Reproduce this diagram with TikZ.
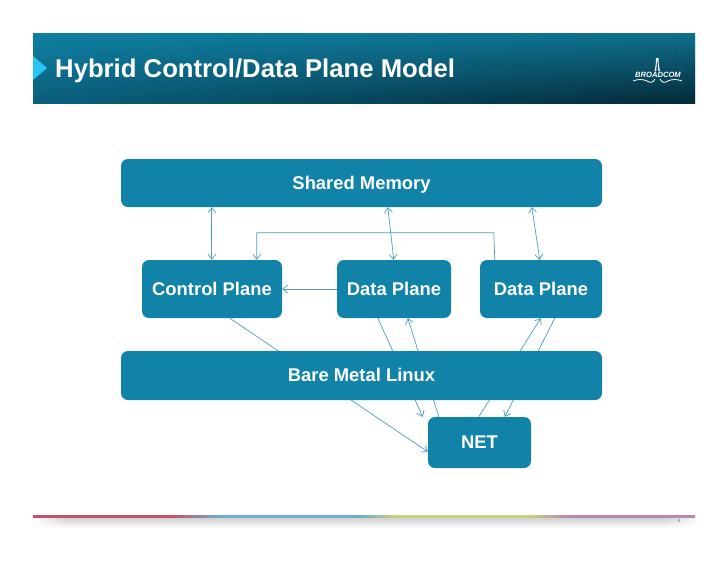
\documentclass[tikz,border=0pt]{standalone}
\usepackage{fontspec}
\setmainfont{Liberation Sans}
\usetikzlibrary{arrows.meta,fadings,backgrounds}
\definecolor{boxc}{HTML}{1183A9}
\definecolor{linkc}{HTML}{4F9DBA}
\definecolor{rainA}{HTML}{C9506A}
\definecolor{rainB}{HTML}{6FAEC6}
\definecolor{rainC}{HTML}{C8D082}
\definecolor{rainD}{HTML}{B48CAE}
\definecolor{hdrTL}{HTML}{0F80A2}
\definecolor{hdrBL}{HTML}{0A5F7C}
\definecolor{hdrTR}{HTML}{0E6F8C}
\definecolor{hdrBR}{HTML}{042B3A}
\definecolor{arrowc}{HTML}{27C4F5}
\pgfdeclarehorizontalshading{rainbowline}{100bp}{
 color(0bp)=(rainA);
 color(35.5bp)=(rainA);
 color(39bp)=(rainB);
 color(49.7bp)=(rainB);
 color(52.3bp)=(rainC);
 color(62.5bp)=(rainC);
 color(65.2bp)=(rainD);
 color(100bp)=(rainD)}
\tikzfading[name=shadowdown,top color=transparent!30,bottom color=transparent!100]
\tikzfading[name=shadowmid,left color=transparent!100,middle color=transparent!0,right color=transparent!100]
\tikzfading[name=fadeleft,left color=transparent!0,right color=transparent!100]
\tikzfading[name=faderight,left color=transparent!100,right color=transparent!0]
\tikzset{
 boxnode/.style={fill=boxc,rounded corners=7pt,inner sep=0pt,text=white,
   text height=12pt,text depth=0pt,
   font=\fontsize{18.4}{22}\selectfont\bfseries},
 link/.style={draw=linkc,line width=0.7pt},
 tip/.style={-{Straight Barb[length=5pt,width=8pt]}},
 twotip/.style={{Straight Barb[length=5pt,width=8pt]}-{Straight Barb[length=5pt,width=8pt]}},
}
\begin{document}
\begin{tikzpicture}[x=1pt,y=-1pt]
\useasboundingbox (0,0) rectangle (728,563);
% header shadow
\fill[black,opacity=.55,path fading=shadowmid] (120,103) rectangle (615,105.5);
\fill[black,opacity=.3,path fading=shadowmid] (120,105.5) rectangle (615,108);
\fill[black,opacity=.1,path fading=shadowmid] (120,108) rectangle (615,110);
% header band
\foreach \k in {0,...,34} {
  \pgfmathtruncatemacro{\pct}{100-100*\k/34}
  \shade[left color=hdrTL!\pct!hdrBL,right color=hdrTR!\pct!hdrBR] (33,33+2*\k) rectangle (695,{min(103,35.5+2*\k)});
}
\fill[white,opacity=.035] foreach \i in {0,...,85} { foreach \j in {0,...,11} { (300+4.5*\i,40+4.5*\j) circle (0.8) } };
\fill[arrowc] (33,56) -- (47,68) -- (33,80) -- cycle;
\node[anchor=base west,inner sep=0pt,text=white,font=\fontsize{25.7}{28}\selectfont\bfseries] (title) at (55,77) {Hybrid Control/Data Plane Model};
% logo
\node[text=white,inner sep=0pt,font=\fontsize{7.6}{8}\selectfont\bfseries\itshape] (logo) at (658,75) {BROADCOM};
\fill[white] (654.5,71) .. controls (656,66) and (656,60) .. (656,58) -- (658.5,58) .. controls (658.5,60) and (658.5,66) .. (660,71) -- (658.3,71) -- (657.6,61) -- (656.9,61) -- (656.2,71) -- cycle;
\draw[white,line width=0.8pt] (633,81) .. controls (638,79) and (643,79) .. (647,81) .. controls (650,83) and (653,83) .. (655,79);
\draw[white,line width=0.8pt] (660,79) .. controls (662,83) and (665,83) .. (668,81) .. controls (672,79) and (677,79) .. (682,81);
% footer
\fill[black!28,path fading=shadowdown] (33,517) rectangle (695,528);
\fill[white,path fading=fadeleft] (33,517) rectangle (65,529);
\fill[white,opacity=.8,path fading=faderight] (665,517) rectangle (695,529);
\shade[shading=rainbowline] (33,515) rectangle (695,517.2);
\node[text=black!55,inner sep=0pt,font=\fontsize{5}{6}\selectfont] (pagenum) at (679,521) {4};
% boxes
\node[boxnode,minimum width=481pt,minimum height=48pt] (sm) at (361.5,183) {Shared Memory};
\node[boxnode,minimum width=140pt,minimum height=58pt] (cp) at (212,289) {Control Plane};
\node[boxnode,minimum width=114pt,minimum height=58pt] (dpa) at (394,289) {Data Plane};
\node[boxnode,minimum width=122pt,minimum height=58pt] (dpb) at (541,289) {Data Plane};
\node[boxnode,minimum width=481pt,minimum height=49pt] (bm) at (361.5,375.5) {Bare Metal Linux};
\node[boxnode,minimum width=103pt,minimum height=51pt] (net) at (479.5,442.5) {NET};
% connectors
\begin{pgfonlayer}{background}
\fill[white] (0,0) rectangle (728,563);
\draw[link,twotip] ([xshift=91pt]sm.south west) -- ([xshift=70pt]cp.north west);
\draw[link,twotip] ([xshift=267pt]sm.south west) -- ([xshift=57pt]dpa.north west);
\draw[link,twotip] ([xshift=411pt]sm.south west) -- ([xshift=60pt]dpb.north west);
\draw[link,tip] ([xshift=15pt]dpb.north west) -- ++(-1,-27) -| ([xshift=115pt]cp.north west);
\draw[link,tip] (dpa.west) -- (cp.east);
\draw[link,tip] ([xshift=88pt]cp.south west) -- ([yshift=-35pt]net.north west);
\draw[link,tip] ([xshift=41pt]dpa.south west) -- ([xshift=-5pt]net.north west);
\draw[link,tip] ([xshift=11pt]net.north west) -- ([xshift=71pt]dpa.south west);
\draw[link,tip] ([xshift=51pt]net.north west) -- ([xshift=61pt]dpb.south west);
\draw[link,tip] ([xshift=75pt]dpb.south west) -- ([xshift=77pt]net.north west);
\end{pgfonlayer}
\end{tikzpicture}
\end{document}
